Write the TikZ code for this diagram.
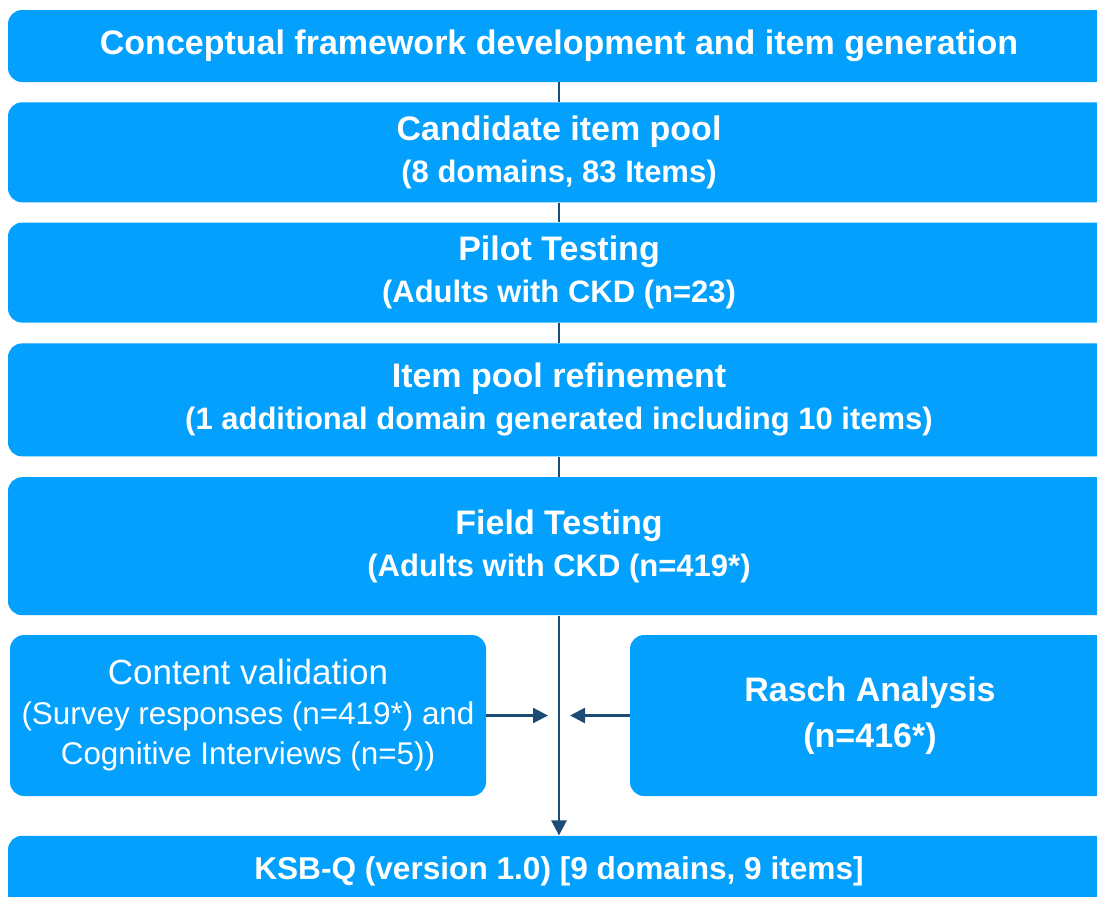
\documentclass[tikz,border=0pt]{standalone}
\usepackage{fontspec}
\setmainfont{Liberation Sans}
\usetikzlibrary{arrows.meta,positioning}
\definecolor{boxblue}{RGB}{3,161,253}
\definecolor{linknavy}{RGB}{28,75,118}
\newcommand\subline[1]{{\fontsize{15.5}{21}\selectfont #1}}

\begin{document}
\begin{tikzpicture}[
  x=0.5pt,y=0.5pt,
  font=\fontsize{17}{21}\selectfont\bfseries,
  >={Triangle[length=7.5pt,width=7.5pt]},
  node distance=9.75pt,
  stage/.style={
    fill=boxblue,
    text=white,
    rounded corners=7pt,
    align=center,
    inner sep=0pt,
    minimum width=551pt
  },
  sidebox/.style={stage,minimum height=80.5pt},
  link/.style={draw=linknavy,line width=1.2pt},
  feed/.style={link,->}
]
  \path[use as bounding box,clip] (0,0) rectangle (1097,-896);

  \node[stage,minimum height=36pt] (concept) at (559,-46)
    {Conceptual framework development and item generation};

  \node[stage,minimum height=50pt,below=of concept] (pool)
    {Candidate item pool\\\subline{(8 domains, 83 Items)}};

  \node[stage,minimum height=50pt,below=of pool] (pilot)
    {Pilot Testing\\\subline{(Adults with CKD (n=23)}};

  \node[stage,minimum height=56.5pt,below=10pt of pilot] (refine)
    {Item pool refinement\\\subline{(1 additional domain generated including 10 items)}};

  \node[stage,minimum height=69pt,below=10pt of refine] (field)
    {Field Testing\\\subline{(Adults with CKD (n=419*)}};

  \node[sidebox,minimum width=238pt,font=\fontsize{15.7}{20}\selectfont,
    below right=9.5pt and 1pt of field.south west] (content)
    {\fontsize{17.5}{20}\selectfont Content validation\\(Survey responses (n=419*) and\\Cognitive Interviews (n=5))};

  \node[sidebox,minimum width=240pt,font=\fontsize{17}{23}\selectfont\bfseries,
    below left=9.5pt and 0pt of field.south east] (rasch)
    {Rasch Analysis\\(n=416*)};

  \coordinate (mid) at (content.south -| field.south);
  \node[stage,minimum height=36pt,below=19.5pt of mid,
    font=\fontsize{15.8}{21}\selectfont\bfseries] (ksbq)
    {KSB-Q (version 1.0) [9 domains, 9 items]};

  \coordinate (junction) at (field.south |- content.east);
  \coordinate[left=5.5pt of junction] (leftend);
  \coordinate[right=5.5pt of junction] (rightend);

  \draw[link] (concept) -- (pool);
  \draw[link] (pool) -- (pilot);
  \draw[link] (pilot) -- (refine);
  \draw[link] (refine) -- (field);
  \draw[feed] (field) -- (ksbq);
  \draw[feed] (content.east) -- (leftend);
  \draw[feed] (rasch.west) -- (rightend);
\end{tikzpicture}
\end{document}
